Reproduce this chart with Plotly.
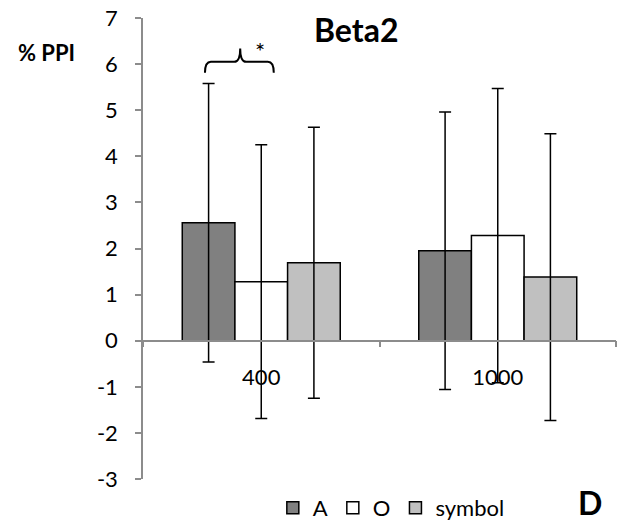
import plotly.graph_objects as go

categories = ["400", "1000"]
series_names = ["A", "O", "symbol"]
means_A = [2.56, 1.95]
means_O = [1.28, 2.28]
means_S = [1.69, 1.38]
err_A = [3.02, 3.01]
err_O = [2.97, 3.19]
err_S = [2.94, 3.11]
y_ticks = [-3, -2, -1, 0, 1, 2, 3, 4, 5, 6, 7]
y_tick_labels = [str(v) for v in y_ticks]

colors = ["#808080", "#ffffff", "#c0c0c0"]
FONT = "Lato, Open Sans, sans-serif"

fig = go.Figure()
for name, vals, errs, col in zip(series_names, [means_A, means_O, means_S],
                                 [err_A, err_O, err_S], colors):
    fig.add_trace(go.Bar(
        x=categories, y=vals, name=name,
        marker=dict(color=col, line=dict(color="black", width=1.5)),
        error_y=dict(type="data", array=errs, visible=True, color="black",
                     thickness=1.5, width=6),
    ))

# significance brace between A and O at 400
x0, x1, xp = -0.238, 0.053, -0.089
yb, yh, yt = 5.81, 6.05, 6.34
dx = 0.025
path = (f"M {x0},{yb} Q {x0},{yh} {x0+dx},{yh} L {xp-dx},{yh} "
        f"Q {xp},{yh} {xp},{yt} Q {xp},{yh} {xp+dx},{yh} "
        f"L {x1-dx},{yh} Q {x1},{yh} {x1},{yb}")
fig.add_shape(type="path", path=path, xref="x", yref="y",
              line=dict(color="black", width=2))
fig.add_annotation(x=-0.004, y=6.3, xref="x", yref="y", text="*",
                   showarrow=False, font=dict(size=24, color="black", family=FONT))

fig.add_annotation(x=0.45, y=0.974, xref="paper", yref="paper", text="<b>Beta2</b>",
                   showarrow=False, xanchor="center", yanchor="middle",
                   font=dict(size=32, color="black", family=FONT))
fig.add_annotation(x=-0.203, y=0.926, xref="paper", yref="paper", text="<b>% PPI</b>",
                   showarrow=False, xanchor="center", yanchor="middle",
                   font=dict(size=22, color="black", family=FONT))
fig.add_annotation(x=0.945, y=-0.052, xref="paper", yref="paper", text="<b>D</b>",
                   showarrow=False, xanchor="center", yanchor="middle",
                   font=dict(size=32, color="black", family=FONT))

fig.update_layout(
    width=621, height=519,
    margin=dict(l=135, r=13, t=10, b=48, autoexpand=False),
    paper_bgcolor="white", plot_bgcolor="white",
    barmode="group", bargap=0.332, bargroupgap=0,
    font=dict(family=FONT, color="black", size=22),
    showlegend=True,
    legend=dict(orientation="h", x=0.525, y=-0.063, xanchor="center", yanchor="middle",
                font=dict(size=22, family=FONT), bgcolor="rgba(0,0,0,0)",
                itemwidth=30, tracegroupgap=0),
    xaxis=dict(type="category", anchor="free", position=0.3,
               showline=True, linecolor="#8c8c8c", linewidth=1.5,
               ticks="outside", tickson="boundaries", ticklen=6, tickcolor="#8c8c8c",
               tickwidth=1.5, showgrid=False, zeroline=False, automargin=False,
               ticklabelstandoff=17, tickfont=dict(size=22)),
    yaxis=dict(range=[-3, 7], tickvals=y_ticks, ticktext=y_tick_labels,
               showline=True, linecolor="#8c8c8c",
               linewidth=1.5, ticks="outside", ticklen=6, tickcolor="#8c8c8c",
               tickwidth=1.5, showgrid=False, zeroline=False, automargin=False,
               ticklabeloverflow="allow",
               tickfont=dict(size=22), ticklabelstandoff=13),
)

fig.write_html("out.html")
